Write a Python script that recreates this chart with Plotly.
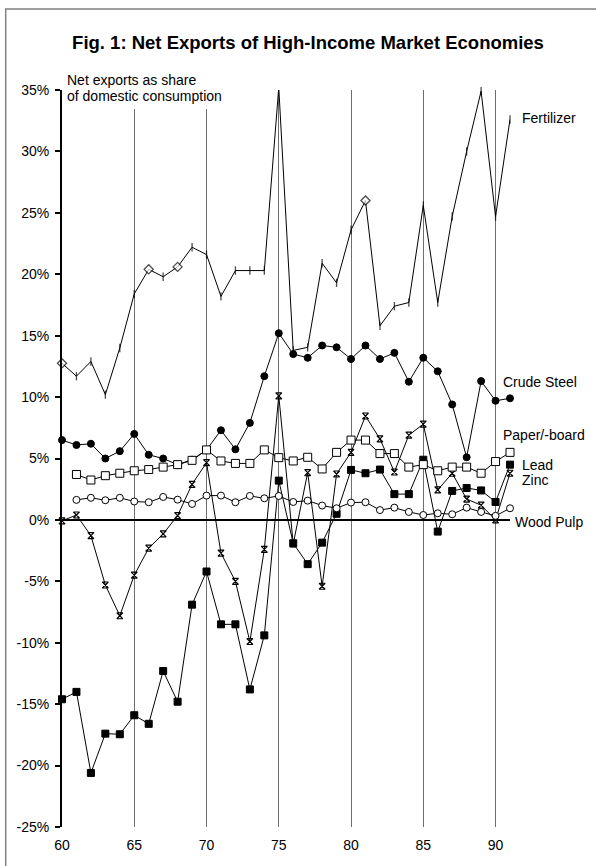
import plotly.graph_objects as go

# Years (two-digit, 1960-1991)
years = list(range(60, 92))

# Net exports as share of domestic consumption, %
fertilizer = [12.75, 11.7, 12.9, 10.2, 14.0, 18.4, 20.4, 19.8, 20.6, 22.2,
              21.6, 18.2, 20.3, 20.3, 20.3, 35.2, 13.8, 14.05, 20.9, 19.3,
              23.6, 26.0, 15.8, 17.4, 17.7, 25.6, 17.7, 24.7, 30.0, 34.9,
              24.7, 32.6]
crude_steel = [6.5, 6.1, 6.2, 5.0, 5.6, 7.0, 5.3, 5.0, 4.5, 4.9,
               5.7, 7.3, 5.75, 7.9, 11.7, 15.2, 13.5, 13.2, 14.2, 14.05,
               13.1, 14.2, 13.1, 13.6, 11.25, 13.2, 12.1, 9.4, 5.1, 11.3,
               9.7, 9.9]
paper_board = [None, 3.7, 3.25, 3.6, 3.8, 4.0, 4.1, 4.3, 4.5, 4.85,
               5.7, 4.8, 4.6, 4.6, 5.7, 5.07, 4.8, 5.1, 4.15, 5.5,
               6.5, 6.5, 5.4, 5.4, 4.3, 4.5, 4.0, 4.3, 4.3, 3.8,
               4.75, 5.5]
lead = [-14.6, -14.0, -20.6, -17.4, -17.45, -15.9, -16.6, -12.3, -14.8, -6.9,
        -4.2, -8.5, -8.5, -13.8, -9.4, 3.2, -1.9, -3.6, -1.85, 0.5,
        4.07, 3.8, 4.1, 2.1, 2.1, 4.9, -0.95, 2.36, 2.6, 2.4,
        1.46, 4.5]
zinc = [-0.08, 0.4, -1.28, -5.3, -7.8, -4.5, -2.3, -1.14, 0.35, 2.9,
        4.66, -2.7, -5.0, -9.9, -2.4, 10.1, -1.95, 3.85, -5.4, 3.74,
        5.5, 8.46, 6.6, 3.9, 6.9, 7.8, 2.44, 3.8, 1.7, 1.2,
        0.0, 3.8]
wood_pulp = [None, 1.63, 1.8, 1.6, 1.8, 1.5, 1.44, 1.87, 1.65, 1.3,
             1.98, 1.98, 1.44, 1.95, 1.76, 1.95, 1.46, 1.57, 1.17, 0.95,
             1.41, 1.44, 0.8, 1.0, 0.65, 0.4, 0.54, 0.46, 1.0, 0.65,
             0.33, 0.95]

x_tickvals = [60, 65, 70, 75, 80, 85, 90]
x_ticktext = ["60", "65", "70", "75", "80", "85", "90"]
y_tickvals = [-25, -20, -15, -10, -5, 0, 5, 10, 15, 20, 25, 30, 35]
y_ticktext = ["-25%", "-20%", "-15%", "-10%", "-5%", "0%", "5%", "10%",
              "15%", "20%", "25%", "30%", "35%"]

# series label, y position of label, horizontal shift from last point
labels = [("Fertilizer", 32.7, 10), ("Crude Steel", 11.25, -9),
          ("Paper/-board", 6.9, -9), ("Lead", 4.5, 10),
          ("Zinc", 3.25, 10), ("Wood Pulp", -0.14, 3)]

FONT = "Liberation Sans, Arial, sans-serif"
W, H = 596, 866
ML, MR, MT, MB = 62, 86, 90, 39

diamond_years = (60, 66, 68, 81)
fert_symbols = ["diamond" if y in diamond_years else "line-ns" for y in years]
fert_sizes = [7 if y in diamond_years else 6 for y in years]

fig = go.Figure()

def add(yvals, symbol, size, fill, lw=1.0, mlw=1.0):
    fig.add_trace(go.Scatter(
        x=years, y=yvals, mode="lines+markers", cliponaxis=False,
        line=dict(color="black", width=lw),
        marker=dict(symbol=symbol, size=size, color=fill,
                    line=dict(color="black", width=mlw)),
        showlegend=False, hoverinfo="skip"))

add(lead, "square", 7, "black")
add(zinc, "hourglass-open", 6, "black", mlw=1.2)
add(wood_pulp, "circle", 7, "white")
add(crude_steel, "circle", 7, "black")
add(paper_board, "square", 8, "white")
add(fertilizer, fert_symbols, fert_sizes, "white", mlw=1.3)

for text, yv, dx in labels:
    fig.add_annotation(x=91, y=yv, xref="x", yref="y", text=text,
                       showarrow=False, xanchor="left", yanchor="middle",
                       xshift=dx, font=dict(family=FONT, size=14, color="black"))

plot_w = W - ML - MR
plot_h = H - MT - MB

def px_x(p):
    return (p - ML) / plot_w

def px_y(p):
    return (H - MB - p) / plot_h

# white box behind the axis caption
fig.add_shape(type="rect", xref="paper", yref="paper",
              x0=px_x(63.5), x1=px_x(232), y0=px_y(109), y1=px_y(66),
              fillcolor="white", line=dict(width=0), layer="above")
fig.add_annotation(xref="paper", yref="paper", x=px_x(64.5), y=px_y(80),
                   text="Net exports as share", showarrow=False,
                   xanchor="left", yanchor="middle",
                   font=dict(family=FONT, size=14, color="black"))
fig.add_annotation(xref="paper", yref="paper", x=px_x(64.5), y=px_y(96),
                   text="of domestic consumption", showarrow=False,
                   xanchor="left", yanchor="middle",
                   font=dict(family=FONT, size=14, color="black"))

# frame around the figure
fig.add_shape(type="rect", xref="paper", yref="paper",
              x0=px_x(5.7), x1=px_x(700), y0=px_y(1000), y1=px_y(9),
              line=dict(color="#808080", width=1.5), fillcolor="rgba(0,0,0,0)",
              layer="above")

fig.update_layout(
    width=W, height=H,
    margin=dict(l=ML, r=MR, t=MT, b=MB, pad=0),
    paper_bgcolor="white", plot_bgcolor="white",
    title=dict(text="<b>Fig. 1: Net Exports of High-Income Market Economies</b>",
               x=308 / W, xanchor="center", y=1 - 43 / H, yanchor="middle",
               xref="container", yref="container",
               font=dict(family=FONT, size=18.5, color="black")),
    font=dict(family=FONT, size=14, color="black"),
    xaxis=dict(range=[60, 91], tickvals=x_tickvals, ticktext=x_ticktext,
               showline=False, zeroline=False, ticks="",
               showgrid=True, gridcolor="#6e6e6e", gridwidth=1.3,
               ticklabelstandoff=8, tickfont=dict(size=14)),
    yaxis=dict(range=[-25, 35], tickvals=y_tickvals, ticktext=y_ticktext,
               showline=True, linecolor="black", linewidth=2,
               ticks="outside", ticklen=5, tickwidth=1.5, tickcolor="black",
               showgrid=False, zeroline=True, zerolinecolor="black",
               zerolinewidth=2, ticklabelstandoff=3, tickfont=dict(size=14)),
)

fig.write_html("out.html")
